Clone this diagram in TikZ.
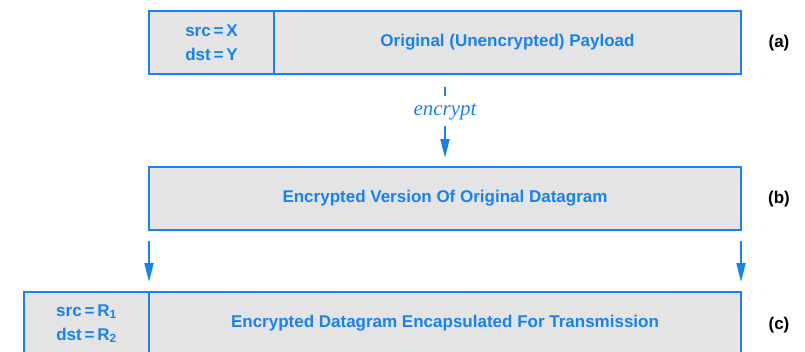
\documentclass[tikz,border=0pt]{standalone}
\usepackage{fontspec}
\setmainfont{Liberation Sans}
\newfontfamily\serifit{Liberation Serif}
\usetikzlibrary{arrows.meta}
\definecolor{dblue}{RGB}{22,130,245}
\definecolor{boxgray}{RGB}{228,228,228}
\tikzset{
  pkt/.style={draw=dblue, fill=boxgray, line width=2pt},
  divline/.style={draw=dblue, line width=2pt},
  lbl/.style={text=dblue, font=\fontsize{17}{20}\selectfont\bfseries},
  hdr/.style={text=dblue, font=\fontsize{17}{24}\selectfont\bfseries, align=center},
  tag/.style={text=black, font=\fontsize{17}{20}\selectfont\bfseries},
  flow/.style={draw=dblue, line width=2pt, -{Triangle[length=19pt,width=9pt]}},
  stub/.style={draw=dblue, line width=2pt},
}
\begin{document}
\begin{tikzpicture}[x=1pt,y=-1pt]
\useasboundingbox (0,0) rectangle (805,351);
\clip (0,0) rectangle (805,351);
% (a)
\path[pkt] (149,11) rectangle (741,74);
\draw[divline] (274,11) -- (274,74);
\node[hdr] (ha) at (211.5,42.5) {src\,=\,X\\dst\,=\,Y};
\node[lbl] (pa) at (507.5,42.5) {Original (Unencrypted) Payload};
\node[tag] (ta) at (779,43) {(a)};
% encrypt
\coordinate (e1) at (445,87);
\coordinate (e2) at (445,96);
\node[text=dblue, font=\serifit\itshape\fontsize{21}{24}\selectfont] (enc) at (445,112) {encrypt};
\coordinate (e3) at (445,126);
\coordinate (e4) at (445,158);
\draw[stub] (e1) -- (e2);
\draw[flow] (e3) -- (e4);
% (b)
\path[pkt] (149,167) rectangle (741,230);
\node[lbl] (pb) at (445,198.5) {Encrypted Version Of Original Datagram};
\node[tag] (tb) at (779,199) {(b)};
% side arrows
\coordinate (l1) at (149,241);
\coordinate (l2) at (149,282);
\coordinate (r1) at (741,241);
\coordinate (r2) at (741,282);
\draw[flow] (l1) -- (l2);
\draw[flow] (r1) -- (r2);
% (c)
\path[pkt] (24,292) rectangle (741,370);
\draw[divline] (149,292) -- (149,370);
\node[hdr] (hc) at (86.5,323.5) {src\,=\,R\textsubscript{1}\\dst\,=\,R\textsubscript{2}};
\node[lbl] (pc) at (445,323.5) {Encrypted Datagram Encapsulated For Transmission};
\node[tag] (tc) at (779,325) {(c)};
\end{tikzpicture}
\end{document}
